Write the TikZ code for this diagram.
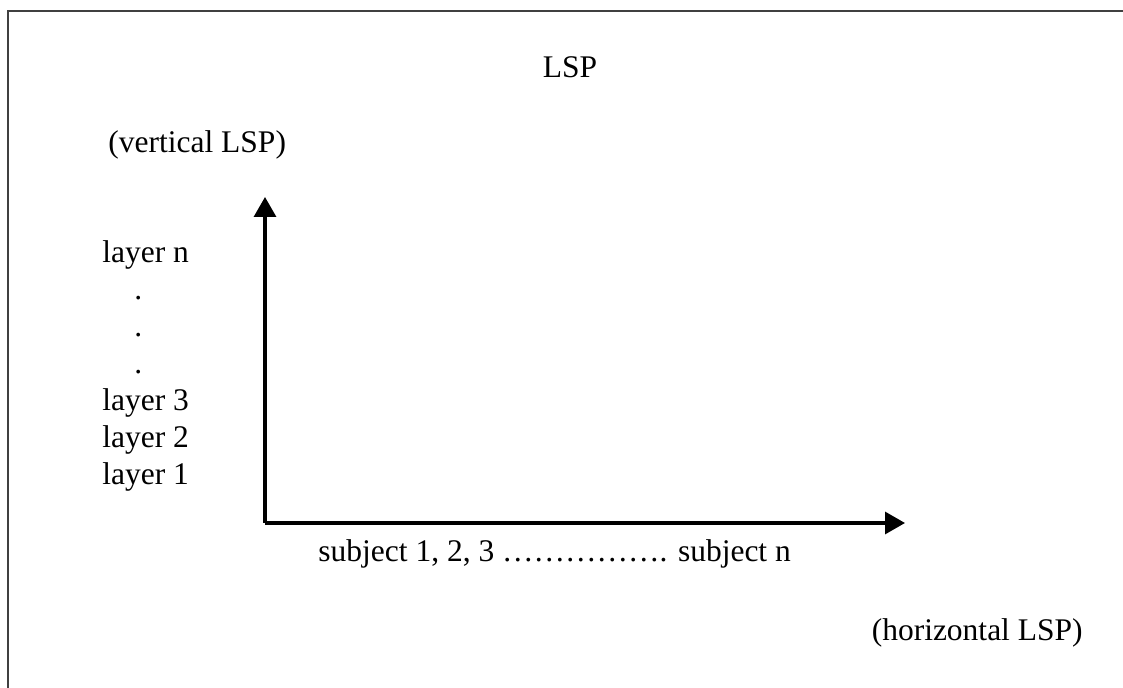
\documentclass[tikz,border=0pt]{standalone}
\usepackage{fontspec}
\setmainfont{Liberation Serif}
\usetikzlibrary{arrows.meta}
\begin{document}
\begin{tikzpicture}[x=0.5pt,y=-0.5pt,
  lbl/.style={inner sep=0pt,font=\fontsize{15.75pt}{18pt}\selectfont},
  axis/.style={line width=1.6pt,-{Triangle[length=10pt,width=11pt]}},
  frame/.style={line width=1.4pt,draw=black!75}]
\useasboundingbox (0,0) rectangle (1123,688);
\clip (0,0) rectangle (1123,688);
% outer frame (runs past the right and bottom edges)
\draw[frame] (8,11) rectangle (1160,720);
% titles
\node[lbl,anchor=base] (title) at (570,78) {LSP};
\node[lbl,anchor=base west] (vlsp) at (108,153) {(vertical LSP)};
\node[lbl,anchor=base east] (hlsp) at (1083,640) {(horizontal LSP)};
% layer list
\node[lbl,anchor=base west] (ln) at (102,263) {layer n};
\node[lbl,anchor=base west] (d1) at (134,300) {.};
\node[lbl,anchor=base west] (d2) at (134,337) {.};
\node[lbl,anchor=base west] (d3) at (134,374) {.};
\node[lbl,anchor=base west] (l3) at (102,411) {layer 3};
\node[lbl,anchor=base west] (l2) at (102,448) {layer 2};
\node[lbl,anchor=base west] (l1) at (102,485) {layer 1};
% axes
\coordinate (O) at (265,523);
\coordinate (ytip) at (265,197);
\coordinate (xtip) at (905,523);
\draw[axis] (O) -- (ytip);
\draw[axis] (O) -- (xtip);
\node[lbl,anchor=base west] (subj) at (318,562) {subject 1, 2, 3 ……………. subject n};
\end{tikzpicture}
\end{document}
